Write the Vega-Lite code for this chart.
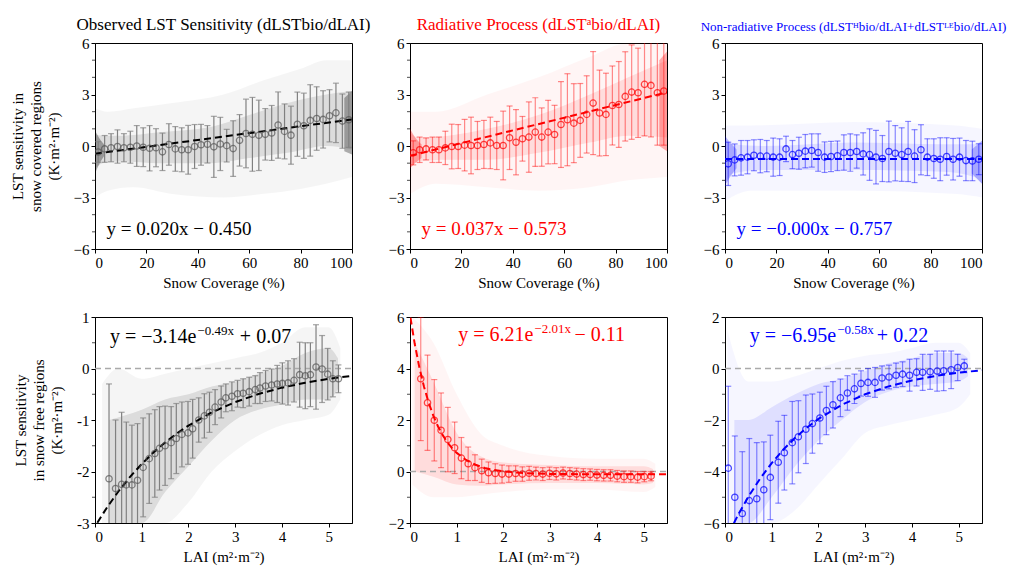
{
"$schema":"https://vega.github.io/schema/vega-lite/v6.json",
"background":"white",
"padding":{"left":9,"top":15,"right":5,"bottom":5},
"config":{
 "font":"Liberation Serif",
 "view":{"stroke":"black","strokeWidth":1},
 "axis":{"domainColor":"black","tickColor":"black","labelColor":"black","titleColor":"black","labelFontSize":15,"titleFontSize":15,"titleFontWeight":"normal","grid":false,"tickSize":4,"labelPadding":2,"titleLineHeight":18},
 "axisY":{"titlePadding":12},
 "axisX":{"titlePadding":5},
 "title":{"fontSize":17,"fontWeight":"normal","offset":2}
},
"datasets":{
"b1":[
{"x":1.25,"y":-0.35,"lo":-0.95,"hi":0.25},{"x":3.75,"y":-0.17,"lo":-0.95,"hi":0.61},{"x":6.25,"y":-0.10,"lo":-0.92,"hi":0.72},{"x":8.75,"y":-0.03,"lo":-1.00,"hi":0.94},{"x":11.25,"y":-0.10,"lo":-0.92,"hi":0.72},{"x":13.75,"y":-0.07,"lo":-1.00,"hi":0.86},{"x":16.25,"y":0.00,"lo":-1.19,"hi":1.19},{"x":18.75,"y":-0.07,"lo":-1.20,"hi":1.06},{"x":21.25,"y":-0.13,"lo":-1.45,"hi":1.19},{"x":23.75,"y":-0.10,"lo":-1.21,"hi":1.01},
{"x":26.25,"y":-0.34,"lo":-1.43,"hi":0.75},{"x":28.75,"y":0.09,"lo":-1.12,"hi":1.30},{"x":31.25,"y":-0.17,"lo":-1.47,"hi":1.13},{"x":33.75,"y":-0.22,"lo":-1.50,"hi":1.06},{"x":36.25,"y":-0.22,"lo":-1.64,"hi":1.20},{"x":38.75,"y":-0.03,"lo":-1.31,"hi":1.25},{"x":41.25,"y":0.07,"lo":-1.12,"hi":1.26},{"x":43.75,"y":0.10,"lo":-0.99,"hi":1.19},{"x":46.25,"y":-0.05,"lo":-1.83,"hi":1.73},{"x":48.75,"y":0.12,"lo":-1.43,"hi":1.67},
{"x":51.25,"y":0.02,"lo":-0.93,"hi":0.97},{"x":53.75,"y":-0.15,"lo":-1.77,"hi":1.47},{"x":56.25,"y":0.33,"lo":-1.17,"hi":1.83},{"x":58.75,"y":0.73,"lo":-1.27,"hi":2.73},{"x":61.25,"y":0.68,"lo":-1.47,"hi":2.83},{"x":63.75,"y":0.62,"lo":-1.43,"hi":2.67},{"x":66.25,"y":0.68,"lo":-0.82,"hi":2.18},{"x":68.75,"y":0.76,"lo":-0.84,"hi":2.36},{"x":71.25,"y":1.22,"lo":-0.71,"hi":3.15},{"x":73.75,"y":0.85,"lo":-0.75,"hi":2.45},
{"x":76.25,"y":0.63,"lo":-1.06,"hi":2.32},{"x":78.75,"y":1.27,"lo":-0.60,"hi":3.14},{"x":81.25,"y":1.18,"lo":-0.72,"hi":3.08},{"x":83.75,"y":1.49,"lo":-0.59,"hi":3.57},{"x":86.25,"y":1.60,"lo":-0.25,"hi":3.45},{"x":88.75,"y":1.55,"lo":-0.12,"hi":3.22},{"x":91.25,"y":1.76,"lo":0.24,"hi":3.28},{"x":93.75,"y":1.93,"lo":0.20,"hi":3.66},{"x":96.25,"y":1.45,"lo":-0.13,"hi":3.03},{"x":98.75,"y":1.53,"lo":-0.08,"hi":3.14}],
"b2":[
{"x":1.25,"y":-0.40,"lo":-1.10,"hi":0.30},{"x":3.75,"y":-0.22,"lo":-0.96,"hi":0.52},{"x":6.25,"y":-0.17,"lo":-0.81,"hi":0.47},{"x":8.75,"y":-0.22,"lo":-0.96,"hi":0.52},{"x":11.25,"y":-0.22,"lo":-0.96,"hi":0.52},{"x":13.75,"y":-0.11,"lo":-1.08,"hi":0.86},{"x":16.25,"y":-0.03,"lo":-1.33,"hi":1.27},{"x":18.75,"y":-0.03,"lo":-1.31,"hi":1.25},{"x":21.25,"y":0.05,"lo":-1.45,"hi":1.55},{"x":23.75,"y":0.03,"lo":-1.62,"hi":1.68},
{"x":26.25,"y":0.03,"lo":-1.37,"hi":1.43},{"x":28.75,"y":0.09,"lo":-1.31,"hi":1.49},{"x":31.25,"y":0.18,"lo":-1.32,"hi":1.68},{"x":33.75,"y":0.03,"lo":-1.37,"hi":1.43},{"x":36.25,"y":0.03,"lo":-1.97,"hi":2.03},{"x":38.75,"y":0.48,"lo":-1.37,"hi":2.33},{"x":41.25,"y":0.22,"lo":-1.68,"hi":2.12},{"x":43.75,"y":0.42,"lo":-0.88,"hi":1.72},{"x":46.25,"y":0.52,"lo":-1.53,"hi":2.57},{"x":48.75,"y":0.81,"lo":-1.19,"hi":2.81},
{"x":51.25,"y":0.52,"lo":-1.18,"hi":2.22},{"x":53.75,"y":0.81,"lo":-1.04,"hi":2.66},{"x":56.25,"y":0.67,"lo":-1.03,"hi":2.37},{"x":58.75,"y":1.25,"lo":-1.25,"hi":3.75},{"x":61.25,"y":1.53,"lo":-1.15,"hi":4.21},{"x":63.75,"y":1.33,"lo":-0.97,"hi":3.63},{"x":66.25,"y":1.49,"lo":-0.66,"hi":3.64},{"x":68.75,"y":1.84,"lo":-0.41,"hi":4.09},{"x":71.25,"y":2.50,"lo":-0.50,"hi":5.50},{"x":73.75,"y":1.92,"lo":-0.58,"hi":4.42},
{"x":76.25,"y":1.84,"lo":-0.56,"hi":4.24},{"x":78.75,"y":2.36,"lo":0.06,"hi":4.66},{"x":81.25,"y":2.42,"lo":-0.08,"hi":4.92},{"x":83.75,"y":2.89,"lo":0.29,"hi":5.49},{"x":86.25,"y":3.14,"lo":0.39,"hi":5.89},{"x":88.75,"y":3.10,"lo":0.50,"hi":5.70},{"x":91.25,"y":3.59,"lo":0.59,"hi":6.59},{"x":93.75,"y":3.53,"lo":0.53,"hi":6.53},{"x":96.25,"y":3.10,"lo":0.05,"hi":6.15},{"x":98.75,"y":3.20,"lo":0.05,"hi":6.35}],
"b3":[
{"x":1.25,"y":-1.04,"lo":-2.30,"hi":0.22},{"x":3.75,"y":-0.81,"lo":-1.74,"hi":0.12},{"x":6.25,"y":-0.69,"lo":-1.70,"hi":0.32},{"x":8.75,"y":-0.65,"lo":-1.62,"hi":0.32},{"x":11.25,"y":-0.54,"lo":-1.44,"hi":0.36},{"x":13.75,"y":-0.59,"lo":-1.56,"hi":0.38},{"x":16.25,"y":-0.59,"lo":-1.50,"hi":0.32},{"x":18.75,"y":-0.65,"lo":-1.76,"hi":0.46},{"x":21.25,"y":-0.65,"lo":-1.72,"hi":0.42},{"x":23.75,"y":-0.17,"lo":-0.91,"hi":0.57},
{"x":26.25,"y":-0.50,"lo":-1.32,"hi":0.32},{"x":28.75,"y":-0.42,"lo":-1.35,"hi":0.51},{"x":31.25,"y":-0.30,"lo":-1.27,"hi":0.67},{"x":33.75,"y":-0.26,"lo":-1.23,"hi":0.71},{"x":36.25,"y":-0.38,"lo":-1.47,"hi":0.71},{"x":38.75,"y":-0.65,"lo":-1.54,"hi":0.24},{"x":41.25,"y":-0.61,"lo":-1.49,"hi":0.27},{"x":43.75,"y":-0.57,"lo":-1.43,"hi":0.29},{"x":46.25,"y":-0.38,"lo":-1.41,"hi":0.65},{"x":48.75,"y":-0.38,"lo":-1.47,"hi":0.71},
{"x":51.25,"y":-0.32,"lo":-1.29,"hi":0.65},{"x":53.75,"y":-0.46,"lo":-1.69,"hi":0.77},{"x":56.25,"y":-0.50,"lo":-2.00,"hi":1.00},{"x":58.75,"y":-0.65,"lo":-2.21,"hi":0.91},{"x":61.25,"y":-0.73,"lo":-2.07,"hi":0.61},{"x":63.75,"y":-0.32,"lo":-2.09,"hi":1.45},{"x":66.25,"y":-0.42,"lo":-2.03,"hi":1.19},{"x":68.75,"y":-0.50,"lo":-2.06,"hi":1.06},{"x":71.25,"y":-0.32,"lo":-2.07,"hi":1.43},{"x":73.75,"y":-0.59,"lo":-2.13,"hi":0.95},
{"x":76.25,"y":-0.22,"lo":-1.68,"hi":1.24},{"x":78.75,"y":-0.65,"lo":-1.72,"hi":0.42},{"x":81.25,"y":-0.73,"lo":-1.88,"hi":0.42},{"x":83.75,"y":-0.77,"lo":-2.02,"hi":0.48},{"x":86.25,"y":-0.61,"lo":-1.70,"hi":0.48},{"x":88.75,"y":-0.77,"lo":-1.98,"hi":0.44},{"x":91.25,"y":-0.65,"lo":-1.76,"hi":0.46},{"x":93.75,"y":-0.85,"lo":-2.02,"hi":0.32},{"x":96.25,"y":-0.87,"lo":-2.02,"hi":0.28},{"x":98.75,"y":-0.77,"lo":-1.67,"hi":0.13}],
"b4":[
{"x":0.30,"y":-2.14,"lo":-3.98,"hi":-0.30},{"x":0.44,"y":-2.33,"lo":-3.66,"hi":-1.00},{"x":0.57,"y":-2.25,"lo":-3.65,"hi":-0.85},{"x":0.67,"y":-2.26,"lo":-3.48,"hi":-1.04},{"x":0.79,"y":-2.26,"lo":-3.42,"hi":-1.10},{"x":0.91,"y":-2.17,"lo":-3.27,"hi":-1.07},{"x":1.03,"y":-1.92,"lo":-2.88,"hi":-0.96},{"x":1.16,"y":-1.75,"lo":-2.62,"hi":-0.88},{"x":1.28,"y":-1.65,"lo":-2.50,"hi":-0.80},{"x":1.38,"y":-1.55,"lo":-2.36,"hi":-0.74},
{"x":1.50,"y":-1.50,"lo":-2.27,"hi":-0.73},{"x":1.63,"y":-1.44,"lo":-2.14,"hi":-0.74},{"x":1.74,"y":-1.36,"lo":-2.04,"hi":-0.68},{"x":1.86,"y":-1.28,"lo":-1.91,"hi":-0.65},{"x":1.99,"y":-1.25,"lo":-1.86,"hi":-0.64},{"x":2.09,"y":-1.17,"lo":-1.74,"hi":-0.60},{"x":2.22,"y":-1.00,"lo":-1.43,"hi":-0.57},{"x":2.34,"y":-0.92,"lo":-1.35,"hi":-0.49},{"x":2.45,"y":-0.85,"lo":-1.24,"hi":-0.46},{"x":2.57,"y":-0.75,"lo":-1.09,"hi":-0.41},
{"x":2.70,"y":-0.65,"lo":-0.96,"hi":-0.34},{"x":2.80,"y":-0.57,"lo":-0.84,"hi":-0.30},{"x":2.93,"y":-0.54,"lo":-0.82,"hi":-0.26},{"x":3.05,"y":-0.49,"lo":-0.75,"hi":-0.23},{"x":3.17,"y":-0.48,"lo":-0.76,"hi":-0.20},{"x":3.30,"y":-0.45,"lo":-0.73,"hi":-0.17},{"x":3.43,"y":-0.41,"lo":-0.68,"hi":-0.14},{"x":3.53,"y":-0.38,"lo":-0.68,"hi":-0.08},{"x":3.65,"y":-0.34,"lo":-0.64,"hi":-0.04},{"x":3.78,"y":-0.32,"lo":-0.63,"hi":-0.01},
{"x":3.90,"y":-0.30,"lo":-0.66,"hi":0.06},{"x":4.01,"y":-0.29,"lo":-0.69,"hi":0.11},{"x":4.13,"y":-0.28,"lo":-0.71,"hi":0.15},{"x":4.26,"y":-0.23,"lo":-0.65,"hi":0.19},{"x":4.38,"y":-0.12,"lo":-0.75,"hi":0.51},{"x":4.50,"y":-0.14,"lo":-0.78,"hi":0.50},{"x":4.61,"y":-0.12,"lo":-0.74,"hi":0.50},{"x":4.73,"y":0.03,"lo":-0.79,"hi":0.85},{"x":4.86,"y":-0.01,"lo":-0.66,"hi":0.64},{"x":4.98,"y":-0.11,"lo":-0.61,"hi":0.39},
{"x":5.09,"y":-0.20,"lo":-0.55,"hi":0.15},{"x":5.21,"y":-0.20,"lo":-0.47,"hi":0.07}],
"b5":[
{"x":0.23,"y":3.60,"lo":1.20,"hi":6.00},{"x":0.375,"y":2.67,"lo":0.82,"hi":4.52},{"x":0.52,"y":1.99,"lo":0.41,"hi":3.57},{"x":0.665,"y":1.60,"lo":0.15,"hi":3.05},{"x":0.81,"y":1.24,"lo":-0.01,"hi":2.49},{"x":0.955,"y":0.92,"lo":-0.08,"hi":1.92},{"x":1.10,"y":0.52,"lo":-0.28,"hi":1.32},{"x":1.245,"y":0.30,"lo":-0.35,"hi":0.95},{"x":1.39,"y":0.15,"lo":-0.35,"hi":0.65},{"x":1.535,"y":0.03,"lo":-0.42,"hi":0.48},
{"x":1.68,"y":-0.05,"lo":-0.47,"hi":0.37},{"x":1.825,"y":-0.08,"lo":-0.46,"hi":0.30},{"x":1.97,"y":-0.10,"lo":-0.45,"hi":0.25},{"x":2.115,"y":-0.10,"lo":-0.42,"hi":0.22},{"x":2.26,"y":-0.08,"lo":-0.38,"hi":0.22},{"x":2.405,"y":-0.10,"lo":-0.38,"hi":0.18},{"x":2.55,"y":-0.07,"lo":-0.34,"hi":0.20},{"x":2.695,"y":-0.08,"lo":-0.33,"hi":0.17},{"x":2.84,"y":-0.10,"lo":-0.35,"hi":0.15},{"x":2.985,"y":-0.07,"lo":-0.31,"hi":0.17},
{"x":3.13,"y":-0.09,"lo":-0.33,"hi":0.15},{"x":3.275,"y":-0.06,"lo":-0.29,"hi":0.17},{"x":3.42,"y":-0.08,"lo":-0.31,"hi":0.15},{"x":3.565,"y":-0.10,"lo":-0.33,"hi":0.13},{"x":3.71,"y":-0.12,"lo":-0.35,"hi":0.11},{"x":3.855,"y":-0.12,"lo":-0.34,"hi":0.10},{"x":4.00,"y":-0.14,"lo":-0.36,"hi":0.08},{"x":4.145,"y":-0.15,"lo":-0.37,"hi":0.07},{"x":4.29,"y":-0.15,"lo":-0.37,"hi":0.07},{"x":4.435,"y":-0.18,"lo":-0.40,"hi":0.04},
{"x":4.58,"y":-0.20,"lo":-0.42,"hi":0.02},{"x":4.725,"y":-0.20,"lo":-0.42,"hi":0.02},{"x":4.87,"y":-0.22,"lo":-0.44,"hi":0.00},{"x":5.015,"y":-0.20,"lo":-0.40,"hi":0.00},{"x":5.16,"y":-0.18,"lo":-0.36,"hi":0.00}],
"b6":[
{"x":0.07,"y":-3.87,"lo":-7.05,"hi":-0.69},{"x":0.21,"y":-5.00,"lo":-7.38,"hi":-2.62},{"x":0.37,"y":-5.63,"lo":-8.03,"hi":-3.23},{"x":0.52,"y":-5.13,"lo":-7.54,"hi":-2.72},{"x":0.68,"y":-5.06,"lo":-7.24,"hi":-2.88},{"x":0.83,"y":-4.71,"lo":-6.57,"hi":-2.85},{"x":0.97,"y":-4.23,"lo":-5.87,"hi":-2.59},{"x":1.14,"y":-3.64,"lo":-5.23,"hi":-2.05},{"x":1.27,"y":-3.27,"lo":-4.72,"hi":-1.82},{"x":1.44,"y":-2.88,"lo":-4.48,"hi":-1.28},
{"x":1.57,"y":-2.65,"lo":-4.05,"hi":-1.25},{"x":1.73,"y":-2.36,"lo":-3.69,"hi":-1.03},{"x":1.87,"y":-2.14,"lo":-3.29,"hi":-0.99},{"x":2.03,"y":-1.92,"lo":-2.92,"hi":-0.92},{"x":2.17,"y":-1.63,"lo":-2.57,"hi":-0.69},{"x":2.31,"y":-1.41,"lo":-2.31,"hi":-0.51},{"x":2.47,"y":-1.14,"lo":-1.87,"hi":-0.41},{"x":2.62,"y":-0.95,"lo":-1.62,"hi":-0.28},{"x":2.77,"y":-0.79,"lo":-1.36,"hi":-0.22},{"x":2.91,"y":-0.58,"lo":-1.07,"hi":-0.09},
{"x":3.06,"y":-0.54,"lo":-1.08,"hi":0.00},{"x":3.21,"y":-0.54,"lo":-1.12,"hi":0.04},{"x":3.36,"y":-0.37,"lo":-0.84,"hi":0.10},{"x":3.51,"y":-0.33,"lo":-0.79,"hi":0.13},{"x":3.66,"y":-0.26,"lo":-0.73,"hi":0.21},{"x":3.80,"y":-0.22,"lo":-0.70,"hi":0.26},{"x":3.95,"y":-0.26,"lo":-0.88,"hi":0.36},{"x":4.10,"y":-0.15,"lo":-0.68,"hi":0.38},{"x":4.23,"y":-0.15,"lo":-0.85,"hi":0.55},{"x":4.39,"y":-0.13,"lo":-0.81,"hi":0.55},
{"x":4.54,"y":-0.10,"lo":-0.88,"hi":0.68},{"x":4.68,"y":-0.09,"lo":-0.86,"hi":0.68},{"x":4.84,"y":-0.05,"lo":-0.78,"hi":0.68},{"x":4.98,"y":0.04,"lo":-0.47,"hi":0.55},{"x":5.12,"y":0.10,"lo":-0.16,"hi":0.36}],
"c1o":[{"x":0,"y":-3,"y2":2.2},{"x":5,"y":-2.6,"y2":2},{"x":15,"y":-2.4,"y2":2.2},{"x":30,"y":-2.8,"y2":2.5},{"x":50,"y":-3,"y2":3},{"x":65,"y":-2.8,"y2":3.8},{"x":80,"y":-2.5,"y2":4.5},{"x":90,"y":-2.2,"y2":5},{"x":100,"y":-1.8,"y2":5}],
"c1i":[{"x":0,"y":-1.3,"y2":0.7},{"x":3,"y":-1,"y2":0.6},{"x":10,"y":-0.9,"y2":0.6},{"x":25,"y":-1,"y2":0.8},{"x":45,"y":-1,"y2":1.1},{"x":60,"y":-0.7,"y2":1.8},{"x":75,"y":-0.4,"y2":2.5},{"x":90,"y":0,"y2":3},{"x":100,"y":-0.2,"y2":3.2}],
"c1d":[{"x":0,"y":-1.6,"y2":0.9,"g":"a"},{"x":1.5,"y":-1.1,"y2":0.5,"g":"a"},{"x":3.5,"y":-0.6,"y2":0.1,"g":"a"},{"x":97,"y":-0.3,"y2":2.8,"g":"b"},{"x":100,"y":-0.5,"y2":3.2,"g":"b"}],
"c2o":[{"x":0,"y":-2.8,"y2":2},{"x":10,"y":-2.2,"y2":2},{"x":30,"y":-2.4,"y2":3},{"x":50,"y":-2.6,"y2":4},{"x":70,"y":-2.4,"y2":5.2},{"x":85,"y":-2,"y2":6},{"x":100,"y":-1.8,"y2":6}],
"c2i":[{"x":0,"y":-1.2,"y2":0.8},{"x":3,"y":-0.9,"y2":0.5},{"x":15,"y":-0.8,"y2":0.6},{"x":30,"y":-0.8,"y2":1.0},{"x":50,"y":-0.4,"y2":1.8},{"x":70,"y":0.2,"y2":3},{"x":85,"y":0.6,"y2":4},{"x":100,"y":0.5,"y2":5}],
"c2d":[{"x":0,"y":-1.3,"y2":1.0,"g":"a"},{"x":2,"y":-1.0,"y2":0.5,"g":"a"},{"x":4.5,"y":-0.7,"y2":0.1,"g":"a"},{"x":97,"y":0,"y2":5,"g":"b"},{"x":100,"y":-0.3,"y2":5.5,"g":"b"}],
"c3o":[{"x":0,"y":-3.2,"y2":1.2},{"x":10,"y":-2.6,"y2":1.2},{"x":50,"y":-2.6,"y2":1.4},{"x":90,"y":-2.8,"y2":1.2},{"x":100,"y":-3,"y2":1}],
"c3i":[{"x":0,"y":-2.2,"y2":0.4},{"x":3,"y":-1.6,"y2":0.1},{"x":15,"y":-1.4,"y2":0},{"x":50,"y":-1.4,"y2":0.2},{"x":85,"y":-1.5,"y2":0.1},{"x":97,"y":-1.8,"y2":0.1},{"x":100,"y":-2.2,"y2":0.3}],
"c3d":[{"x":0,"y":-2.3,"y2":0.6,"g":"a"},{"x":2,"y":-1.8,"y2":0.2,"g":"a"},{"x":4.5,"y":-1.3,"y2":-0.2,"g":"a"},{"x":96,"y":-1.6,"y2":-0.2,"g":"b"},{"x":100,"y":-2.2,"y2":0.3,"g":"b"}],
"c4o":[{"x":0.15,"y":-3,"y2":-0.3},{"x":0.5,"y":-3,"y2":0},{"x":1,"y":-3,"y2":-0.2},{"x":1.5,"y":-3,"y2":-0.1},{"x":2,"y":-2.6,"y2":0},{"x":2.5,"y":-2,"y2":0.1},{"x":3,"y":-1.6,"y2":0.2},{"x":3.5,"y":-1.3,"y2":0.3},{"x":4,"y":-1.1,"y2":0.5},{"x":4.5,"y":-1,"y2":0.8},{"x":5,"y":-0.9,"y2":0.8},{"x":5.25,"y":-0.6,"y2":0.4}],
"c4i":[{"x":0.3,"y":-3,"y2":-1},{"x":1,"y":-3,"y2":-0.8},{"x":1.5,"y":-2.4,"y2":-0.6},{"x":2,"y":-1.9,"y2":-0.5},{"x":2.5,"y":-1.4,"y2":-0.35},{"x":3,"y":-1,"y2":-0.25},{"x":3.5,"y":-0.8,"y2":-0.1},{"x":4,"y":-0.7,"y2":0.05},{"x":4.5,"y":-0.6,"y2":0.3},{"x":5,"y":-0.6,"y2":0.4},{"x":5.2,"y":-0.4,"y2":0.2}],
"c5o":[{"x":0.05,"y":-0.5,"y2":6},{"x":0.5,"y":-1,"y2":5},{"x":1,"y":-1,"y2":3},{"x":1.5,"y":-0.9,"y2":1.5},{"x":2,"y":-0.8,"y2":1},{"x":3,"y":-0.7,"y2":0.6},{"x":4,"y":-0.7,"y2":0.5},{"x":5,"y":-0.8,"y2":0.5},{"x":5.25,"y":-0.6,"y2":0.3}],
"c5i":[{"x":0.1,"y":0,"y2":5},{"x":0.5,"y":-0.2,"y2":3.5},{"x":1,"y":-0.5,"y2":1.5},{"x":1.5,"y":-0.55,"y2":0.6},{"x":2,"y":-0.5,"y2":0.35},{"x":3,"y":-0.45,"y2":0.25},{"x":4,"y":-0.45,"y2":0.2},{"x":5,"y":-0.5,"y2":0.2},{"x":5.2,"y":-0.45,"y2":0.1}],
"c6o":[{"x":0.05,"y":-6,"y2":1.5},{"x":0.5,"y":-6,"y2":-0.5},{"x":1,"y":-6,"y2":-0.5},{"x":1.5,"y":-5.5,"y2":-0.3},{"x":2,"y":-4.5,"y2":0},{"x":2.5,"y":-3.5,"y2":0.3},{"x":3,"y":-2.5,"y2":0.5},{"x":3.5,"y":-2.2,"y2":0.6},{"x":4,"y":-2,"y2":0.8},{"x":4.5,"y":-1.8,"y2":1},{"x":5,"y":-1.5,"y2":1},{"x":5.25,"y":-1,"y2":0.6}],
"c6i":[{"x":0.2,"y":-6,"y2":-2},{"x":0.5,"y":-6,"y2":-2},{"x":1,"y":-5,"y2":-1.5},{"x":1.5,"y":-3.8,"y2":-1},{"x":2,"y":-2.8,"y2":-0.6},{"x":2.5,"y":-2,"y2":-0.4},{"x":3,"y":-1.3,"y2":-0.1},{"x":3.5,"y":-0.9,"y2":0.2},{"x":4,"y":-0.7,"y2":0.4},{"x":4.5,"y":-0.6,"y2":0.6},{"x":5,"y":-0.5,"y2":0.6},{"x":5.2,"y":-0.3,"y2":0.4}],
"f1":[{"x":0,"y":-0.45},{"x":100,"y":1.55}],
"f2":[{"x":0,"y":-0.573},{"x":100,"y":3.127}],
"f3":[{"x":0,"y":-0.757},{"x":100,"y":-0.757}],
"f4":[{"x":0.05,"y":-2.994},{"x":0.25,"y":-2.708},{"x":0.5,"y":-2.388},{"x":0.75,"y":-2.104},{"x":1.0,"y":-1.854},{"x":1.25,"y":-1.632},{"x":1.5,"y":-1.436},{"x":1.75,"y":-1.262},{"x":2.0,"y":-1.108},{"x":2.5,"y":-0.852},{"x":3.0,"y":-0.652},{"x":3.5,"y":-0.495},{"x":4.0,"y":-0.372},{"x":4.5,"y":-0.276},{"x":5.0,"y":-0.201},{"x":5.5,"y":-0.142}],
"f5":[{"x":0.01,"y":5.976},{"x":0.1,"y":4.969},{"x":0.2,"y":4.044},{"x":0.3,"y":3.288},{"x":0.4,"y":2.669},{"x":0.5,"y":2.163},{"x":0.6,"y":1.749},{"x":0.7,"y":1.411},{"x":0.8,"y":1.134},{"x":0.9,"y":0.907},{"x":1.0,"y":0.722},{"x":1.2,"y":0.447},{"x":1.4,"y":0.262},{"x":1.6,"y":0.139},{"x":1.8,"y":0.057},{"x":2.0,"y":0.002},{"x":2.5,"y":-0.069},{"x":3.0,"y":-0.095},{"x":4.0,"y":-0.108},{"x":5.5,"y":-0.11}],
"f6":[{"x":0.19,"y":-6.005},{"x":0.3,"y":-5.62},{"x":0.5,"y":-4.98},{"x":0.75,"y":-4.279},{"x":1.0,"y":-3.671},{"x":1.25,"y":-3.146},{"x":1.5,"y":-2.692},{"x":1.75,"y":-2.299},{"x":2.0,"y":-1.959},{"x":2.5,"y":-1.41},{"x":3.0,"y":-1.0},{"x":3.5,"y":-0.693},{"x":4.0,"y":-0.463},{"x":4.5,"y":-0.291},{"x":5.0,"y":-0.162},{"x":5.5,"y":-0.066}],
"z":[{"x":0,"y":0},{"x":5.5,"y":0}],
"mt":[{"x":0,"y":-5},{"x":0,"y":-4},{"x":0,"y":-2},{"x":0,"y":-1},{"x":0,"y":1},{"x":0,"y":2},{"x":0,"y":4},{"x":0,"y":5}],
"m4":[{"x":0,"y":-2.5},{"x":0,"y":-1.5},{"x":0,"y":-0.5},{"x":0,"y":0.5}],
"m5":[{"x":0,"y":-1},{"x":0,"y":1},{"x":0,"y":3},{"x":0,"y":5}],
"m6":[{"x":0,"y":-5},{"x":0,"y":-3},{"x":0,"y":-1},{"x":0,"y":1}]
},
"columns":3,
"spacing":{"row":68,"column":58},
"bounds":"flush",
"concat":[
{"width":257,"height":206,"title":{"text":"Observed LST Sensitivity (dLSTbio/dLAI)","color":"#000000"},
 "encoding":{"x":{"field":"x","type":"quantitative","scale":{"domain":[0,100],"nice":false,"zero":false},"axis":{"values":[0,20,40,60,80,100],"title":"Snow Coverage (%)"}},
  "y":{"field":"y","type":"quantitative","scale":{"domain":[-6,6],"nice":false,"zero":false},"axis":{"values":[-6,-3,0,3,6],"title":["LST sensitivity in","snow covered regions","(K·m²·m⁻²)"]}}},
 "layer":[
  {"data":{"name":"c1o"},"mark":{"type":"area","color":"#000000","opacity":0.04,"interpolate":"monotone","clip":true},"encoding":{"y2":{"field":"y2"}}},
  {"data":{"name":"c1i"},"mark":{"type":"area","color":"#000000","opacity":0.1,"interpolate":"monotone","clip":true},"encoding":{"y2":{"field":"y2"}}},
  {"data":{"name":"c1d"},"mark":{"type":"area","color":"#000000","opacity":0.3,"interpolate":"monotone","clip":true},"encoding":{"y2":{"field":"y2"},"detail":{"field":"g"}}},
  {"data":{"name":"b1"},"mark":{"type":"rule","color":"#808080","strokeWidth":1.2,"clip":true},"encoding":{"y":{"field":"lo","type":"quantitative","scale":{"domain":[-6,6],"nice":false,"zero":false},"axis":{"values":[-6,-3,0,3,6],"title":["LST sensitivity in","snow covered regions","(K·m²·m⁻²)"]}},"y2":{"field":"hi"}}},
  {"data":{"name":"b1"},"mark":{"type":"tick","orient":"horizontal","size":6,"thickness":1.2,"color":"#808080","clip":true},"encoding":{"y":{"field":"lo","type":"quantitative","scale":{"domain":[-6,6],"nice":false,"zero":false},"axis":{"values":[-6,-3,0,3,6],"title":["LST sensitivity in","snow covered regions","(K·m²·m⁻²)"]}}}},
  {"data":{"name":"b1"},"mark":{"type":"tick","orient":"horizontal","size":6,"thickness":1.2,"color":"#808080","clip":true},"encoding":{"y":{"field":"hi","type":"quantitative","scale":{"domain":[-6,6],"nice":false,"zero":false},"axis":{"values":[-6,-3,0,3,6],"title":["LST sensitivity in","snow covered regions","(K·m²·m⁻²)"]}}}},
  {"data":{"name":"f1"},"mark":{"type":"line","color":"#000000","strokeDash":[7,4],"strokeWidth":2,"clip":true}},
  {"data":{"name":"b1"},"mark":{"type":"point","filled":false,"size":40,"color":"#555555","strokeWidth":1.3,"clip":true}},
  {"data":{"name":"mt"},"mark":{"type":"tick","orient":"horizontal","size":3,"thickness":1,"color":"#000000","xOffset":-1.5}},
  {"data":{"values":[{"x":4.5,"y":-5.2,"t":"y = 0.020x − 0.450"}]},"mark":{"type":"text","align":"left","baseline":"alphabetic","fontSize":19,"color":"#000000"},"encoding":{"text":{"field":"t"}}}
 ]},
{"width":257,"height":206,"title":{"text":"Radiative Process (dLSTᵃbio/dLAI)","color":"#ff0000"},
 "encoding":{"x":{"field":"x","type":"quantitative","scale":{"domain":[0,100],"nice":false,"zero":false},"axis":{"values":[0,20,40,60,80,100],"title":"Snow Coverage (%)"}},
  "y":{"field":"y","type":"quantitative","scale":{"domain":[-6,6],"nice":false,"zero":false},"axis":{"values":[-6,-3,0,3,6],"title":null}}},
 "layer":[
  {"data":{"name":"c2o"},"mark":{"type":"area","color":"#ff0000","opacity":0.04,"interpolate":"monotone","clip":true},"encoding":{"y2":{"field":"y2"}}},
  {"data":{"name":"c2i"},"mark":{"type":"area","color":"#ff0000","opacity":0.1,"interpolate":"monotone","clip":true},"encoding":{"y2":{"field":"y2"}}},
  {"data":{"name":"c2d"},"mark":{"type":"area","color":"#ff0000","opacity":0.3,"interpolate":"monotone","clip":true},"encoding":{"y2":{"field":"y2"},"detail":{"field":"g"}}},
  {"data":{"name":"b2"},"mark":{"type":"rule","color":"#ff0000","opacity":0.45,"strokeWidth":1.2,"clip":true},"encoding":{"y":{"field":"lo","type":"quantitative","scale":{"domain":[-6,6],"nice":false,"zero":false},"axis":{"values":[-6,-3,0,3,6],"title":null}},"y2":{"field":"hi"}}},
  {"data":{"name":"b2"},"mark":{"type":"tick","orient":"horizontal","size":6,"thickness":1.2,"color":"#ff0000","opacity":0.45,"clip":true},"encoding":{"y":{"field":"lo","type":"quantitative","scale":{"domain":[-6,6],"nice":false,"zero":false},"axis":{"values":[-6,-3,0,3,6],"title":null}}}},
  {"data":{"name":"b2"},"mark":{"type":"tick","orient":"horizontal","size":6,"thickness":1.2,"color":"#ff0000","opacity":0.45,"clip":true},"encoding":{"y":{"field":"hi","type":"quantitative","scale":{"domain":[-6,6],"nice":false,"zero":false},"axis":{"values":[-6,-3,0,3,6],"title":null}}}},
  {"data":{"name":"f2"},"mark":{"type":"line","color":"#ff0000","strokeDash":[7,4],"strokeWidth":2,"clip":true}},
  {"data":{"name":"b2"},"mark":{"type":"point","filled":false,"size":40,"color":"#ff0000","opacity":0.7,"strokeWidth":1.3,"clip":true}},
  {"data":{"name":"mt"},"mark":{"type":"tick","orient":"horizontal","size":3,"thickness":1,"color":"#000000","xOffset":-1.5}},
  {"data":{"values":[{"x":4.5,"y":-5.2,"t":"y = 0.037x − 0.573"}]},"mark":{"type":"text","align":"left","baseline":"alphabetic","fontSize":19,"color":"#ff0000"},"encoding":{"text":{"field":"t"}}}
 ]},
{"width":257,"height":206,"title":{"text":"Non-radiative Process (dLSTᴴbio/dLAI+dLSTᴸᴱbio/dLAI)","color":"#0000ff","fontSize":13},
 "encoding":{"x":{"field":"x","type":"quantitative","scale":{"domain":[0,100],"nice":false,"zero":false},"axis":{"values":[0,20,40,60,80,100],"title":"Snow Coverage (%)"}},
  "y":{"field":"y","type":"quantitative","scale":{"domain":[-6,6],"nice":false,"zero":false},"axis":{"values":[-6,-3,0,3,6],"title":null}}},
 "layer":[
  {"data":{"name":"c3o"},"mark":{"type":"area","color":"#0000ff","opacity":0.035,"interpolate":"monotone","clip":true},"encoding":{"y2":{"field":"y2"}}},
  {"data":{"name":"c3i"},"mark":{"type":"area","color":"#0000ff","opacity":0.09,"interpolate":"monotone","clip":true},"encoding":{"y2":{"field":"y2"}}},
  {"data":{"name":"c3d"},"mark":{"type":"area","color":"#0000ff","opacity":0.25,"interpolate":"monotone","clip":true},"encoding":{"y2":{"field":"y2"},"detail":{"field":"g"}}},
  {"data":{"name":"b3"},"mark":{"type":"rule","color":"#0000ff","opacity":0.45,"strokeWidth":1.2,"clip":true},"encoding":{"y":{"field":"lo","type":"quantitative","scale":{"domain":[-6,6],"nice":false,"zero":false},"axis":{"values":[-6,-3,0,3,6],"title":null}},"y2":{"field":"hi"}}},
  {"data":{"name":"b3"},"mark":{"type":"tick","orient":"horizontal","size":6,"thickness":1.2,"color":"#0000ff","opacity":0.45,"clip":true},"encoding":{"y":{"field":"lo","type":"quantitative","scale":{"domain":[-6,6],"nice":false,"zero":false},"axis":{"values":[-6,-3,0,3,6],"title":null}}}},
  {"data":{"name":"b3"},"mark":{"type":"tick","orient":"horizontal","size":6,"thickness":1.2,"color":"#0000ff","opacity":0.45,"clip":true},"encoding":{"y":{"field":"hi","type":"quantitative","scale":{"domain":[-6,6],"nice":false,"zero":false},"axis":{"values":[-6,-3,0,3,6],"title":null}}}},
  {"data":{"name":"f3"},"mark":{"type":"line","color":"#0000ff","strokeDash":[7,4],"strokeWidth":2,"clip":true}},
  {"data":{"name":"b3"},"mark":{"type":"point","filled":false,"size":40,"color":"#0000ff","opacity":0.7,"strokeWidth":1.3,"clip":true}},
  {"data":{"name":"mt"},"mark":{"type":"tick","orient":"horizontal","size":3,"thickness":1,"color":"#000000","xOffset":-1.5}},
  {"data":{"values":[{"x":4.5,"y":-5.2,"t":"y = −0.000x − 0.757"}]},"mark":{"type":"text","align":"left","baseline":"alphabetic","fontSize":19,"color":"#0000ff"},"encoding":{"text":{"field":"t"}}}
 ]},
{"width":257,"height":206,
 "encoding":{"x":{"field":"x","type":"quantitative","scale":{"domain":[0,5.5],"nice":false,"zero":false},"axis":{"values":[0,1,2,3,4,5],"title":"LAI (m²·m⁻²)"}},
  "y":{"field":"y","type":"quantitative","scale":{"domain":[-3,1],"nice":false,"zero":false},"axis":{"values":[-3,-2,-1,0,1],"labelExpr":"replace(datum.label,'−','-')","title":["LST sensitivity","in snow free regions","(K·m²·m⁻²)"]}}},
 "layer":[
  {"data":{"name":"c4o"},"mark":{"type":"area","color":"#000000","opacity":0.04,"interpolate":"monotone","clip":true},"encoding":{"y2":{"field":"y2"}}},
  {"data":{"name":"c4i"},"mark":{"type":"area","color":"#000000","opacity":0.1,"interpolate":"monotone","clip":true},"encoding":{"y2":{"field":"y2"}}},
  {"data":{"name":"z"},"mark":{"type":"line","color":"#aaaaaa","strokeDash":[6,4],"strokeWidth":1.5,"clip":true}},
  {"data":{"name":"b4"},"mark":{"type":"rule","color":"#808080","strokeWidth":1.2,"clip":true},"encoding":{"y":{"field":"lo","type":"quantitative","scale":{"domain":[-3,1],"nice":false,"zero":false},"axis":{"values":[-3,-2,-1,0,1],"labelExpr":"replace(datum.label,'−','-')","title":["LST sensitivity","in snow free regions","(K·m²·m⁻²)"]}},"y2":{"field":"hi"}}},
  {"data":{"name":"b4"},"mark":{"type":"tick","orient":"horizontal","size":6,"thickness":1.2,"color":"#808080","clip":true},"encoding":{"y":{"field":"lo","type":"quantitative","scale":{"domain":[-3,1],"nice":false,"zero":false},"axis":{"values":[-3,-2,-1,0,1],"labelExpr":"replace(datum.label,'−','-')","title":["LST sensitivity","in snow free regions","(K·m²·m⁻²)"]}}}},
  {"data":{"name":"b4"},"mark":{"type":"tick","orient":"horizontal","size":6,"thickness":1.2,"color":"#808080","clip":true},"encoding":{"y":{"field":"hi","type":"quantitative","scale":{"domain":[-3,1],"nice":false,"zero":false},"axis":{"values":[-3,-2,-1,0,1],"labelExpr":"replace(datum.label,'−','-')","title":["LST sensitivity","in snow free regions","(K·m²·m⁻²)"]}}}},
  {"data":{"name":"f4"},"mark":{"type":"line","color":"#000000","strokeDash":[7,4],"strokeWidth":2,"clip":true}},
  {"data":{"name":"b4"},"mark":{"type":"point","filled":false,"size":40,"color":"#555555","strokeWidth":1.3,"clip":true}},
  {"data":{"name":"m4"},"mark":{"type":"tick","orient":"horizontal","size":3,"thickness":1,"color":"#000000","xOffset":-1.5}},
  {"data":{"values":[{"x":0.32,"y":0.5,"t":"y = −3.14e"},{"x":3.1,"y":0.5,"t":"+ 0.07"}]},"mark":{"type":"text","align":"left","baseline":"alphabetic","fontSize":20,"color":"#000000"},"encoding":{"text":{"field":"t"}}},
  {"data":{"values":[{"x":2.19,"y":0.66,"t":"−0.49x"}]},"mark":{"type":"text","align":"left","baseline":"alphabetic","fontSize":13,"color":"#000000"},"encoding":{"text":{"field":"t"}}}
 ]},
{"width":257,"height":206,
 "encoding":{"x":{"field":"x","type":"quantitative","scale":{"domain":[0,5.5],"nice":false,"zero":false},"axis":{"values":[0,1,2,3,4,5],"title":"LAI (m²·m⁻²)"}},
  "y":{"field":"y","type":"quantitative","scale":{"domain":[-2,6],"nice":false,"zero":false},"axis":{"values":[-2,0,2,4,6],"title":null}}},
 "layer":[
  {"data":{"name":"c5o"},"mark":{"type":"area","color":"#ff0000","opacity":0.04,"interpolate":"monotone","clip":true},"encoding":{"y2":{"field":"y2"}}},
  {"data":{"name":"c5i"},"mark":{"type":"area","color":"#ff0000","opacity":0.1,"interpolate":"monotone","clip":true},"encoding":{"y2":{"field":"y2"}}},
  {"data":{"name":"z"},"mark":{"type":"line","color":"#aaaaaa","strokeDash":[6,4],"strokeWidth":1.5,"clip":true}},
  {"data":{"name":"b5"},"mark":{"type":"rule","color":"#ff0000","opacity":0.45,"strokeWidth":1.2,"clip":true},"encoding":{"y":{"field":"lo","type":"quantitative","scale":{"domain":[-2,6],"nice":false,"zero":false},"axis":{"values":[-2,0,2,4,6],"title":null}},"y2":{"field":"hi"}}},
  {"data":{"name":"b5"},"mark":{"type":"tick","orient":"horizontal","size":6,"thickness":1.2,"color":"#ff0000","opacity":0.45,"clip":true},"encoding":{"y":{"field":"lo","type":"quantitative","scale":{"domain":[-2,6],"nice":false,"zero":false},"axis":{"values":[-2,0,2,4,6],"title":null}}}},
  {"data":{"name":"b5"},"mark":{"type":"tick","orient":"horizontal","size":6,"thickness":1.2,"color":"#ff0000","opacity":0.45,"clip":true},"encoding":{"y":{"field":"hi","type":"quantitative","scale":{"domain":[-2,6],"nice":false,"zero":false},"axis":{"values":[-2,0,2,4,6],"title":null}}}},
  {"data":{"name":"f5"},"mark":{"type":"line","color":"#ff0000","strokeDash":[7,4],"strokeWidth":2,"clip":true}},
  {"data":{"name":"b5"},"mark":{"type":"point","filled":false,"size":40,"color":"#ff0000","opacity":0.7,"strokeWidth":1.3,"clip":true}},
  {"data":{"name":"m5"},"mark":{"type":"tick","orient":"horizontal","size":3,"thickness":1,"color":"#000000","xOffset":-1.5}},
  {"data":{"values":[{"x":1.03,"y":5.06,"t":"y = 6.21e"},{"x":3.52,"y":5.06,"t":"− 0.11"}]},"mark":{"type":"text","align":"left","baseline":"alphabetic","fontSize":20,"color":"#ff0000"},"encoding":{"text":{"field":"t"}}},
  {"data":{"values":[{"x":2.66,"y":5.37,"t":"−2.01x"}]},"mark":{"type":"text","align":"left","baseline":"alphabetic","fontSize":13,"color":"#ff0000"},"encoding":{"text":{"field":"t"}}}
 ]},
{"width":257,"height":206,
 "encoding":{"x":{"field":"x","type":"quantitative","scale":{"domain":[0,5.5],"nice":false,"zero":false},"axis":{"values":[0,1,2,3,4,5],"title":"LAI (m²·m⁻²)"}},
  "y":{"field":"y","type":"quantitative","scale":{"domain":[-6,2],"nice":false,"zero":false},"axis":{"values":[-6,-4,-2,0,2],"title":null}}},
 "layer":[
  {"data":{"name":"c6o"},"mark":{"type":"area","color":"#0000ff","opacity":0.035,"interpolate":"monotone","clip":true},"encoding":{"y2":{"field":"y2"}}},
  {"data":{"name":"c6i"},"mark":{"type":"area","color":"#0000ff","opacity":0.09,"interpolate":"monotone","clip":true},"encoding":{"y2":{"field":"y2"}}},
  {"data":{"name":"z"},"mark":{"type":"line","color":"#aaaaaa","strokeDash":[6,4],"strokeWidth":1.5,"clip":true}},
  {"data":{"name":"b6"},"mark":{"type":"rule","color":"#0000ff","opacity":0.45,"strokeWidth":1.2,"clip":true},"encoding":{"y":{"field":"lo","type":"quantitative","scale":{"domain":[-6,2],"nice":false,"zero":false},"axis":{"values":[-6,-4,-2,0,2],"title":null}},"y2":{"field":"hi"}}},
  {"data":{"name":"b6"},"mark":{"type":"tick","orient":"horizontal","size":6,"thickness":1.2,"color":"#0000ff","opacity":0.45,"clip":true},"encoding":{"y":{"field":"lo","type":"quantitative","scale":{"domain":[-6,2],"nice":false,"zero":false},"axis":{"values":[-6,-4,-2,0,2],"title":null}}}},
  {"data":{"name":"b6"},"mark":{"type":"tick","orient":"horizontal","size":6,"thickness":1.2,"color":"#0000ff","opacity":0.45,"clip":true},"encoding":{"y":{"field":"hi","type":"quantitative","scale":{"domain":[-6,2],"nice":false,"zero":false},"axis":{"values":[-6,-4,-2,0,2],"title":null}}}},
  {"data":{"name":"f6"},"mark":{"type":"line","color":"#0000ff","strokeDash":[7,4],"strokeWidth":2,"clip":true}},
  {"data":{"name":"b6"},"mark":{"type":"point","filled":false,"size":40,"color":"#0000ff","opacity":0.7,"strokeWidth":1.3,"clip":true}},
  {"data":{"name":"m6"},"mark":{"type":"tick","orient":"horizontal","size":3,"thickness":1,"color":"#000000","xOffset":-1.5}},
  {"data":{"values":[{"x":0.53,"y":1.03,"t":"y = −6.95e"},{"x":3.25,"y":1.03,"t":"+ 0.22"}]},"mark":{"type":"text","align":"left","baseline":"alphabetic","fontSize":20,"color":"#0000ff"},"encoding":{"text":{"field":"t"}}},
  {"data":{"values":[{"x":2.4,"y":1.34,"t":"−0.58x"}]},"mark":{"type":"text","align":"left","baseline":"alphabetic","fontSize":13,"color":"#0000ff"},"encoding":{"text":{"field":"t"}}}
 ]}
]
}
